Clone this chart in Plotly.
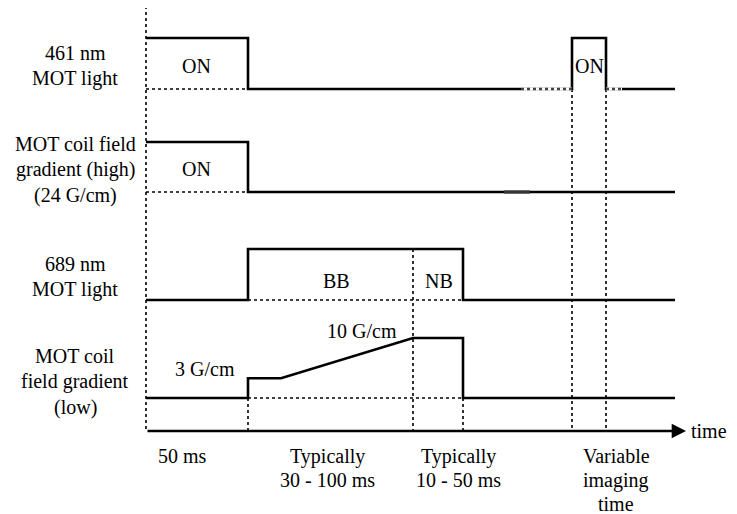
import plotly.graph_objects as go

# time edges of the sequence (drawing units along the time axis)
t_start = 146
t_bb = 248
t_ramp = 281
t_nb = 413
t_off = 463
t_img_on = 572
t_img_off = 606
t_end = 675
t_arrow = 686

# channel waveforms: times and normalised levels
mot461_t = [t_start, t_bb, t_bb, t_img_on, t_img_on, t_img_off, t_img_off, t_end]
mot461_v = [1, 1, 0, 0, 1, 1, 0, 0]
coil_high_t = [t_start, t_bb, t_bb, t_end]
coil_high_v = [1, 1, 0, 0]
mot689_t = [t_start, t_bb, t_bb, t_off, t_off, t_end]
mot689_v = [0, 0, 1, 1, 0, 0]
coil_low_t = [t_start, t_bb, t_bb, t_ramp, t_nb, t_off, t_off, t_end]
coil_low_v = [0, 0, 0.33, 0.33, 1, 1, 0, 0]

# (times, levels, baseline, height)
channels = [
    (mot461_t, mot461_v, 89, 51),
    (coil_high_t, coil_high_v, 192, 50),
    (mot689_t, mot689_v, 300, 51),
    (coil_low_t, coil_low_v, 398, 60),
]
channel_labels = [
    (["461 nm", "MOT light"], 52),
    (["MOT coil field", "gradient (high)", "(24 G/cm)"], 143),
    (["689 nm", "MOT light"], 263),
    (["MOT coil", "field gradient", "(low)"], 355),
]
durations = [["50 ms"], ["Typically", "30 - 100 ms"], ["Typically", "10 - 50 ms"],
             ["Variable", "imaging", "time"]]
duration_x = [182, 327, 458, 616]
inner_text = [("ON", 196, 66), ("ON", 196, 169), ("BB", 336, 281), ("NB", 439, 281),
              ("ON", 589, 66), ("3 G/cm", 205, 369), ("10 G/cm", 362, 331)]
axis_y = 431

font = dict(family="Liberation Serif, Times New Roman, Times, serif", size=20, color="black")
fig = go.Figure()

# dotted markers (drawn first so solid lines sit on top)
dot = dict(color="black", width=1.6, dash="dot")
dotted = [
    ([t_start, t_start], [0, axis_y]),
    ([t_bb, t_bb], [398, axis_y]),
    ([t_nb, t_nb], [249, axis_y]),
    ([t_off, t_off], [398, axis_y]),
    ([t_img_on, t_img_on], [89, axis_y]),
    ([t_img_off, t_img_off], [89, axis_y]),
    ([t_start, t_bb], [89, 89]),
    ([t_start, t_bb], [192, 192]),
    ([t_bb, t_off], [300, 300]),
    ([t_bb, t_off], [398, 398]),
]
for xs, ys in dotted:
    fig.add_trace(go.Scatter(x=xs, y=ys, mode="lines", line=dot, hoverinfo="skip"))

# solid waveforms
for ts, vs, base, amp in channels:
    fig.add_trace(go.Scatter(x=ts, y=[base - v * amp for v in vs], mode="lines",
                             line=dict(color="black", width=2.6), hoverinfo="skip"))

# small time-break marks
for xs, y in [([521, t_img_on], 89), ([t_img_off, 622], 89)]:
    fig.add_trace(go.Scatter(x=xs, y=[y, y], mode="lines",
                             line=dict(color="white", width=3), hoverinfo="skip"))
    fig.add_trace(go.Scatter(x=xs, y=[y, y], mode="lines",
                             line=dict(color="#444", width=2.4, dash="dot"), hoverinfo="skip"))
fig.add_trace(go.Scatter(x=[504, 530], y=[192, 192], mode="lines",
                         line=dict(color="#333", width=3.2), hoverinfo="skip"))

ann = []
for lines, y0 in channel_labels:
    for i, txt in enumerate(lines):
        ann.append(dict(x=75, y=y0 + 25.5 * i + 1, text=txt, showarrow=False, font=font))
for lines, x in zip(durations, duration_x):
    for i, txt in enumerate(lines):
        ann.append(dict(x=x, y=456 + 24 * i, text=txt, showarrow=False, font=font))
for txt, x, y in inner_text:
    ann.append(dict(x=x, y=y, text=txt, showarrow=False, font=font))
ann.append(dict(x=t_arrow, y=axis_y, ax=t_start, ay=axis_y, axref="x", ayref="y",
                showarrow=True, arrowhead=2, arrowsize=1.1, arrowwidth=2.6,
                arrowcolor="black", text=""))
# the right-most strip of the window is not shown, so keep this label inside it
ann.append(dict(x=728, y=axis_y, xanchor="right", text="time", showarrow=False,
                borderpad=0, font=font))

# the page body has an 8px margin, so the drawing starts at 8,8
fig.update_layout(
    width=729, height=506,
    margin=dict(l=0, r=0, t=0, b=0),
    plot_bgcolor="white", paper_bgcolor="white",
    showlegend=False,
    xaxis=dict(range=[8, 737], visible=False),
    yaxis=dict(range=[514, 8], visible=False),
    annotations=ann,
)
fig.write_html("out.html")
